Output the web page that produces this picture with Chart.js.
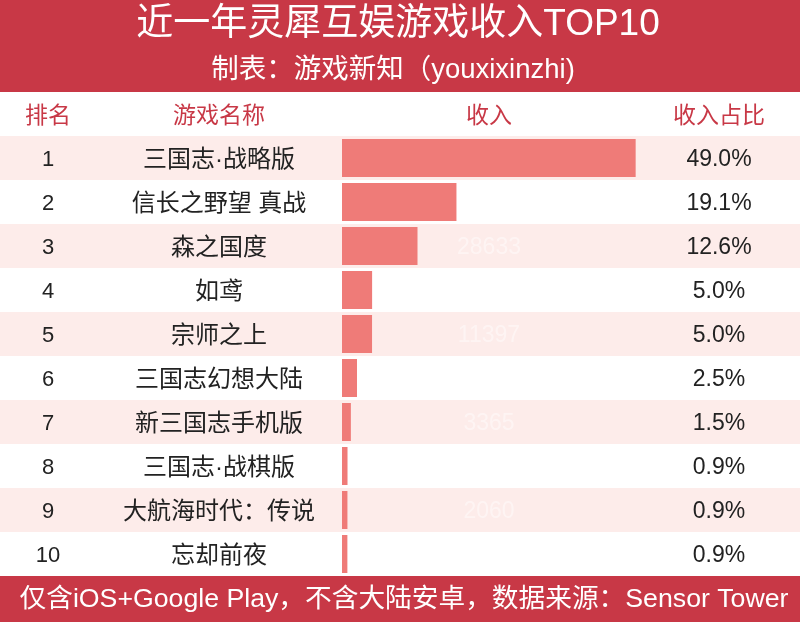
<!DOCTYPE html>
<html>
<head>
<meta charset="utf-8">
<script src="https://cdn.jsdelivr.net/npm/chart.js@4"></script>
<style>
  body { margin: 0; background: #fff; }
  canvas { display: block; }
</style>
</head>
<body>
<canvas id="chart" width="800" height="622"></canvas>
<script>
// chart data
const ranks = ['1', '2', '3', '4', '5', '6', '7', '8', '9', '10']
const games = ['三国志·战略版', '信长之野望 真战', '森之国度', '如鸢', '宗师之上',
               '三国志幻想大陆', '新三国志手机版', '三国志·战棋版', '大航海时代：传说', '忘却前夜']
const revenue = [111350, 43400, 28633, 11420, 11397, 5680, 3365, 2090, 2060, 2040]
const shares = [49.0, 19.1, 12.6, 5.0, 5.0, 2.5, 1.5, 0.9, 0.9, 0.9]
const headers = ['排名', '游戏名称', '收入', '收入占比']

const titleText = '近一年灵犀互娱游戏收入TOP10'
const subTitleText = '制表：游戏新知（youxixinzhi)'
const footText = '仅含iOS+Google Play，不含大陆安卓，数据来源：Sensor Tower'

const RED = '#c83846'
const PINK = '#fdecea'
const BAR = '#ef7b78'
const FONT = '"Liberation Sans", "Noto Sans CJK SC", sans-serif'

// column centers
const colX = [48, 219, 489, 719]

function rowHeight(yScale) {
    return Math.abs(yScale.getPixelForValue(1) - yScale.getPixelForValue(0))
}

//draws the banners, row stripes and all table text
const tablePlugin = {
    id: 'tablePlugin',
    beforeDraw(chart) {
        let ctx = chart.ctx
        let yScale = chart.scales.y
        let w = chart.width
        ctx.save()
        ctx.fillStyle = '#fff'
        ctx.fillRect(0, 0, w, chart.height)

        // top banner
        ctx.fillStyle = RED
        ctx.fillRect(0, 0, w, 92)
        ctx.fillStyle = '#fff'
        ctx.textAlign = 'center'
        ctx.textBaseline = 'middle'
        ctx.font = '37px ' + FONT
        ctx.fillText(titleText, 398, 25)
        ctx.font = '27.5px ' + FONT
        ctx.fillText(subTitleText, 393, 70)

        // header row
        ctx.fillStyle = RED
        ctx.font = '23px ' + FONT
        headers.forEach((h, i) => ctx.fillText(h, colX[i], 117))

        // stripes on odd rows
        let rowH = rowHeight(yScale)
        ctx.fillStyle = PINK
        for (let i = 0; i < games.length; i += 2) {
            let yc = yScale.getPixelForValue(i)
            ctx.fillRect(0, yc - rowH / 2, w, rowH)
        }

        // footer banner
        let bottom = chart.chartArea.bottom
        ctx.fillStyle = RED
        ctx.fillRect(0, bottom, w, chart.height - bottom)
        ctx.fillStyle = '#fff'
        ctx.font = '26.7px ' + FONT
        ctx.fillText(footText, 404, bottom + 24)
        ctx.restore()
    },
    beforeDatasetsDraw(chart) {
        // revenue labels sit behind the bars, almost invisible
        let ctx = chart.ctx
        let yScale = chart.scales.y
        ctx.save()
        ctx.textAlign = 'center'
        ctx.textBaseline = 'middle'
        ctx.fillStyle = 'rgba(255,255,255,0.45)'
        ctx.font = '23px ' + FONT
        for (let i = 0; i < revenue.length; i++) {
            ctx.fillText(String(revenue[i]), colX[2], yScale.getPixelForValue(i) + 2)
        }
        ctx.restore()
    },
    afterDatasetsDraw(chart) {
        let ctx = chart.ctx
        let yScale = chart.scales.y
        ctx.save()
        ctx.textAlign = 'center'
        ctx.textBaseline = 'middle'
        ctx.fillStyle = '#222'
        for (let i = 0; i < games.length; i++) {
            let y = yScale.getPixelForValue(i) + 2
            ctx.font = '22px ' + FONT
            ctx.fillText(ranks[i], colX[0], y)
            ctx.font = '24px ' + FONT
            ctx.fillText(games[i], colX[1], y)
            ctx.font = '23px ' + FONT
            ctx.fillText(shares[i].toFixed(1) + '%', colX[3], y)
        }
        ctx.restore()
    }
}

new Chart(document.getElementById('chart'), {
    type: 'bar',
    data: {
        labels: games,
        datasets: [{
            data: revenue,
            backgroundColor: BAR,
            barPercentage: 0.864,
            categoryPercentage: 1
        }]
    },
    options: {
        indexAxis: 'y',
        responsive: false,
        animation: false,
        layout: { padding: { left: 342, right: 160, top: 136, bottom: 46 } },
        scales: {
            x: { display: false, min: 0, max: 113000 },
            y: { display: false }
        },
        plugins: {
            legend: { display: false },
            tooltip: { enabled: false }
        }
    },
    plugins: [tablePlugin]
})
</script>
</body>
</html>
